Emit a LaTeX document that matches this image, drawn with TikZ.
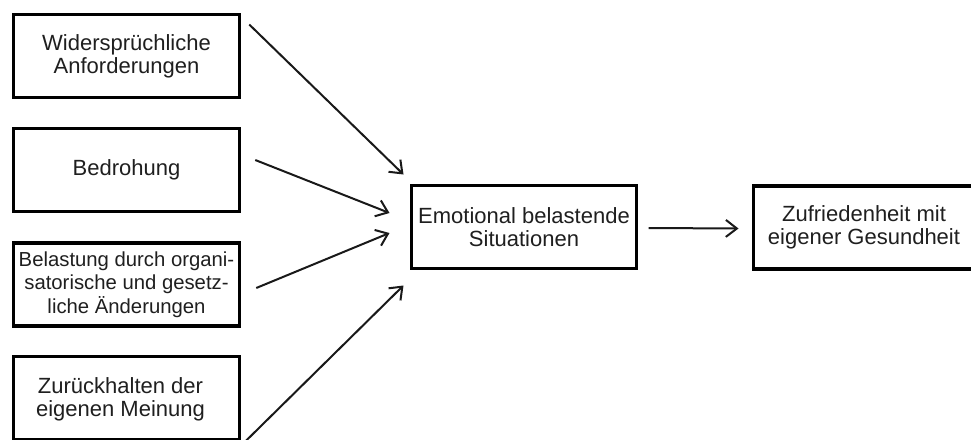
\documentclass[tikz,border=0pt]{standalone}
\usepackage{fontspec}
\setmainfont{Liberation Sans}
\usetikzlibrary{arrows.meta}
\begin{document}
\begin{tikzpicture}[x=1pt,y=-1pt,
  box/.style={draw=black,line width=3.3pt,minimum width=225.5pt,minimum height=83pt,inner sep=0pt,outer sep=0pt,align=center,font=\fontsize{22}{23}\selectfont,text=black!88},
  txt/.style={inner sep=0pt,align=center,font=\fontsize{22}{23}\selectfont,text=black!88},
  conn/.style={line width=2pt,-{Straight Barb[length=11pt,width=17pt,line width=2pt]},black!90}]
\begin{scope}
\clip (0,0) rectangle (971,439);
\fill[white] (0,0) rectangle (971,439);
\node[box] (b1) at (126.5,56) {Widersprüchliche\\Anforderungen};
\node[box] (b2) at (126.5,170) {Bedrohung};
\node[box,font=\fontsize{20.3}{23.5}\selectfont] (b3) at (126.5,284.5) {Belastung durch organi-\\satorische und gesetz-\\liche Änderungen};
\node[box] (b4) at (126.5,398) {};
\node[txt] (t4) at ([shift={(-6,1)}]b4.center) {Zurückhalten der\\eigenen Meinung};
\node[box,minimum width=225pt] (em) at (524,227) {Emotional belastende\\Situationen};
\node[box,minimum width=293pt] (zu) at (900,227.5) {};
\node[txt] (zt) at (864,227.5) {Zufriedenheit mit\\eigener Gesundheit};
\draw[conn] ([shift={(10,10)}]b1.north east) -- ([shift={(-8,-11)}]em.north west);
\draw[conn] ([shift={(16,-10)}]b2.east) -- ([shift={(-22,-14)}]em.west);
\draw[conn] ([shift={(17,3.5)}]b3.east) -- ([shift={(-22,6)}]em.west);
\draw[conn] ([shift={(5,3)}]b4.south east) -- ([shift={(-8,17)}]em.south west);
\draw[conn] ([shift={(12,1)}]em.east) -- ([shift={(-15,1)}]zu.west);
\end{scope}
\pgfresetboundingbox
\useasboundingbox (0,0) rectangle (971,439);
\end{tikzpicture}
\end{document}
